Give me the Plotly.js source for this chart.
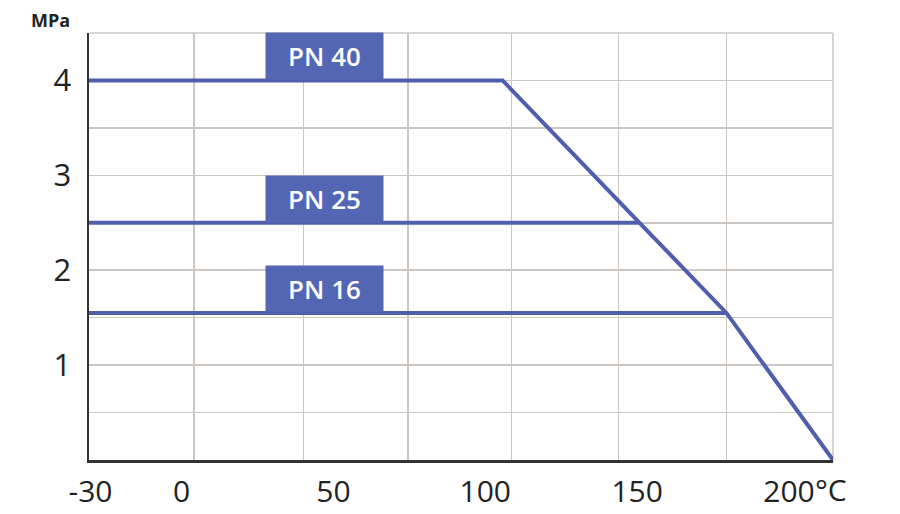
<!DOCTYPE html>
<html>
<head>
<meta charset="utf-8">
<script src="https://cdn.plot.ly/plotly-3.0.1.min.js"></script>
<style>html,body{margin:0;padding:0;background:#fff;}#chart{width:900px;height:514px;}</style>
</head>
<body>
<div id="chart"></div>
<script>
// Temperature tick labels (°C) and grid positions
const xTickVals = [-30, 0, 50, 100, 150, 200];
const xTickText = ["-30", "0", "50", "100", "150", "200"];
const xGridTemps = [-30.5, 4, 40.2, 74.5, 108.7, 143.9, 179.4, 214.5];
const yTickVals = [1, 2, 3, 4];
const yTickText = ["1", "2", "3", "4"];

// Pressure-temperature ratings (MPa vs °C)
const series = ["PN 40", "PN 25", "PN 16"];
const pn40X = [-30.5, 105.7, 150.8, 179.4, 214.5];
const pn40Y = [4, 4, 2.5, 1.55, 0];
const pn25X = [-30.5, 150.8];
const pn25Y = [2.5, 2.5];
const pn16X = [-30.5, 179.4];
const pn16Y = [1.55, 1.55];
const labelX = [47, 47, 47];
const labelY = [4, 2.5, 1.55];

const lineColor = '#4f5fae';
const boxColor = '#5266b4';
const gridColor = '#cbc6c2';
const mk = (x, y, name) => ({x, y, name, type: 'scatter', mode: 'lines',
  line: {color: lineColor, width: 4}, hoverinfo: 'skip', showlegend: false});

const data = [mk(pn16X, pn16Y, series[2]), mk(pn25X, pn25Y, series[1]), mk(pn40X, pn40Y, series[0])];

const annotations = series.map((s, i) => ({
  x: labelX[i], y: labelY[i], xref: 'x', yref: 'y', text: s, showarrow: false,
  xanchor: 'center', yanchor: 'bottom', width: 117, height: 46, bgcolor: boxColor,
  borderpad: 0, font: {family: 'Open Sans', size: 26, color: '#ffffff', weight: 600}
}));
annotations.push({x: -0.052, y: 1, xref: 'paper', yref: 'paper', text: 'MPa', showarrow: false,
  xanchor: 'center', yanchor: 'bottom', yshift: -1, font: {family: 'Open Sans', size: 18, color: '#222', weight: 700}});
annotations.push({x: 200, y: 0, xref: 'x', yref: 'paper', text: '°C', showarrow: false,
  xanchor: 'left', yanchor: 'top', xshift: 24, yshift: -7, font: {family: 'Open Sans', size: 30, color: '#222'}});

const layout = {
  width: 900, height: 514,
  margin: {l: 89, r: 67, t: 33, b: 54},
  paper_bgcolor: '#ffffff', plot_bgcolor: '#ffffff',
  font: {family: 'Open Sans', color: '#222'},
  xaxis: {
    range: [-30.5, 214.5], tickmode: 'array', tickvals: xTickVals, ticktext: xTickText,
    showgrid: false, zeroline: false, showline: true, linecolor: '#333', linewidth: 2.5,
    ticks: '', ticklabelstandoff: 3, tickfont: {size: 30, color: '#222'},
    minor: {tickmode: 'array', tickvals: xGridTemps, showgrid: true, gridcolor: gridColor, gridwidth: 1.5, ticks: ''},
    fixedrange: true
  },
  yaxis: {
    range: [0, 4.5], tickmode: 'array', tickvals: yTickVals, ticktext: yTickText,
    showgrid: true, gridcolor: gridColor, gridwidth: 1.5, zeroline: false,
    showline: true, linecolor: '#333', linewidth: 2.5,
    ticks: '', ticklabelstandoff: 9, tickfont: {size: 31, color: '#222'},
    minor: {dtick: 0.5, tick0: 0, showgrid: true, gridcolor: gridColor, gridwidth: 1.5, ticks: ''},
    fixedrange: true
  },
  shapes: [
    {type: 'line', xref: 'paper', yref: 'paper', x0: 0, x1: 1, y0: 1, y1: 1, layer: 'below', line: {color: gridColor, width: 1.5}},
    {type: 'line', xref: 'paper', yref: 'paper', x0: 1, x1: 1, y0: 0, y1: 1, layer: 'below', line: {color: gridColor, width: 1.5}}
  ],
  annotations: annotations
};

Plotly.newPlot('chart', data, layout, {displayModeBar: false, staticPlot: true});
</script>
</body>
</html>
